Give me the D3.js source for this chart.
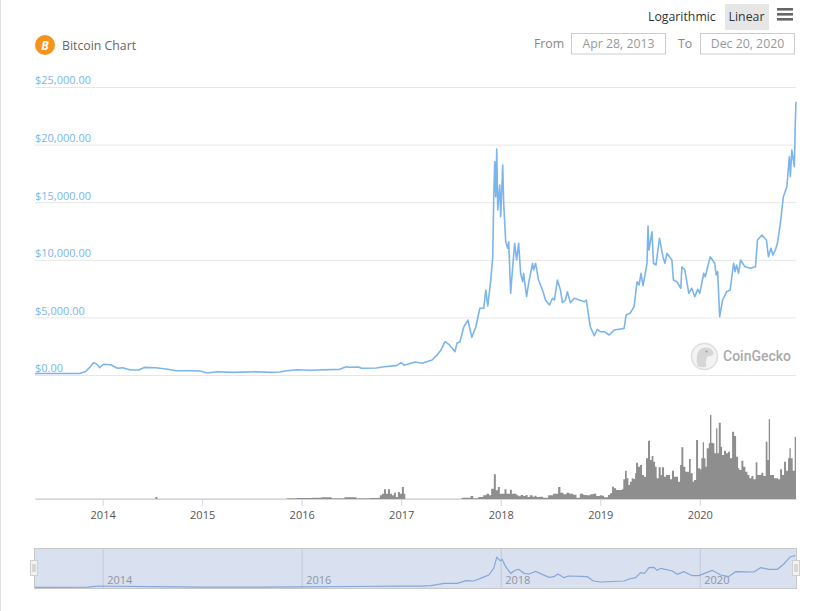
<!DOCTYPE html>
<html>
<head>
<meta charset="utf-8">
<script src="https://cdnjs.cloudflare.com/ajax/libs/d3/7.8.5/d3.min.js"></script>
<style>
    body { margin: 0; background: #fff; }
    svg { display: block; font-family: "Open Sans", sans-serif; }
    svg text { font-family: "Open Sans", sans-serif; }
    .grid line { stroke: #e6e6e6; }
    .grid text { fill: #7cb5ec; font-size: 11px; }
    .xaxis line { stroke: #ccd6eb; }
    .xaxis text { fill: #555; font-size: 11px; }
    .nav-tick line { stroke: #c2c8d6; }
    .nav-tick text { fill: #8e95a3; font-size: 11px; }
</style>
</head>
<body>
<svg id="chart" width="839" height="611"></svg>
<script>
// [year, price in USD]
const pricePoints = [
    [2013.32,135],[2013.77,130],[2013.83,300],[2013.87,660],[2013.91,1070],[2013.94,960],[2013.97,630],
    [2014.01,930],[2014.08,890],[2014.15,580],[2014.20,630],[2014.28,430],[2014.36,430],[2014.42,660],
    [2014.53,630],[2014.64,520],[2014.74,370],[2014.88,370],[2014.98,350],[2015.05,175],[2015.15,280],
    [2015.31,230],[2015.55,280],[2015.68,230],[2015.78,260],[2015.83,345],[2015.95,460],[2016.08,410],
    [2016.15,430],[2016.38,490],[2016.45,720],[2016.48,670],[2016.57,690],[2016.60,580],[2016.75,610],
    [2016.83,720],[2016.95,810],[2017.00,1070],[2017.03,840],[2017.14,1130],[2017.21,1020],[2017.31,1300],
    [2017.36,1730],[2017.40,2170],[2017.44,2890],[2017.48,2660],[2017.54,2020],[2017.56,2750],[2017.59,2890],
    [2017.63,4190],[2017.67,4770],[2017.71,3270],[2017.75,4190],[2017.79,5790],[2017.83,5790],[2017.85,7380],
    [2017.87,5990],[2017.90,8250],[2017.92,10270],[2017.93,15480],[2017.94,18510],[2017.95,15480],[2017.96,19620],
    [2017.97,14320],[2017.99,16490],[2018.00,13740],[2018.02,18230],[2018.03,14900],[2018.05,11570],[2018.07,11000],
    [2018.08,11570],[2018.10,7090],[2018.11,8250],[2018.14,11430],[2018.16,9980],[2018.18,11430],[2018.20,8830],
    [2018.22,8100],[2018.23,8830],[2018.26,6800],[2018.28,7960],[2018.32,9700],[2018.33,9110],[2018.35,9700],
    [2018.38,8250],[2018.42,7380],[2018.45,6510],[2018.49,6080],[2018.52,6660],[2018.54,6510],[2018.57,8250],
    [2018.60,7380],[2018.62,6280],[2018.65,6510],[2018.67,7230],[2018.70,6280],[2018.74,6660],[2018.79,6510],
    [2018.84,6360],[2018.86,6510],[2018.90,4190],[2018.94,3410],[2018.97,3970],[2019.00,3760],[2019.04,3760],
    [2019.09,3470],[2019.14,3900],[2019.20,3990],[2019.24,4050],[2019.26,5210],[2019.30,5360],[2019.34,5930],
    [2019.37,8100],[2019.39,7810],[2019.41,8830],[2019.43,7730],[2019.47,9700],[2019.48,12930],[2019.49,10850],
    [2019.52,12440],[2019.535,9700],[2019.56,9550],[2019.595,11870],[2019.63,10270],[2019.65,9700],[2019.67,10560],
    [2019.72,9980],[2019.735,8250],[2019.77,8100],[2019.81,7530],[2019.82,9400],[2019.85,9110],[2019.89,7090],
    [2019.92,7530],[2019.95,6800],[2019.98,7440],[2020.00,7090],[2020.04,8830],[2020.055,8530],[2020.105,10270],
    [2020.15,9700],[2020.165,8680],[2020.18,8970],[2020.20,5060],[2020.23,6510],[2020.27,7230],[2020.305,7380],
    [2020.34,9700],[2020.355,8970],[2020.37,9550],[2020.39,8830],[2020.41,9980],[2020.43,9700],[2020.455,9400],[2020.51,9260],[2020.56,9400],[2020.58,11720],
    [2020.625,12150],[2020.67,11720],[2020.69,10270],[2020.715,11000],[2020.735,10420],[2020.76,10850],[2020.78,11430],
    [2020.81,13170],[2020.84,15480],[2020.875,16340],[2020.90,18950],[2020.91,17210],[2020.925,19530],[2020.95,18080],
    [2020.96,21850],[2020.967,23720]
];

// [year, volume in billions USD]
const volumePoints = [
    [2013.32,0.5],[2014.52,0.5],[2014.53,3],[2014.55,0.5],[2015.80,0.5],[2015.85,1],[2015.95,1.5],[2016.10,2],
    [2016.20,2.5],[2016.30,1],[2016.43,2.5],[2016.55,1],
    [2016.686,1.5],[2016.726,1.5],[2016.766,2],[2016.786,5.5],[2016.806,8],[2016.827,14.5],[2016.847,8],[2016.867,14.5],
    [2016.887,8],[2016.907,5.5],[2016.927,9.5],[2016.947,3],[2016.967,10.5],[2016.987,8],[2017.007,18],[2017.027,8],
    [2017.041,0.5],[2017.59,0.5],[2017.607,2],[2017.673,2],[2017.697,4.5],[2017.724,1],[2017.774,3],[2017.824,5.5],
    [2017.857,8],[2017.884,5.5],[2017.904,15.5],[2017.931,37],[2017.951,13],[2017.971,18],[2017.991,8],[2018.011,8],
    [2018.038,14.5],[2018.058,8],[2018.092,14],[2018.112,8],[2018.159,5.5],[2018.18,4],[2018.20,6],[2018.226,4.5],[2018.25,6],[2018.27,3],[2018.293,5.5],[2018.32,3.5],[2018.34,5],[2018.36,3],
    [2018.39,3.5],[2018.426,2],[2018.477,5.5],[2018.527,8],[2018.56,8],[2018.577,18],[2018.60,9.5],[2018.63,7],[2018.661,9.5],[2018.69,8],[2018.728,6.5],
    [2018.761,2],[2018.795,8],[2018.83,6],[2018.862,5.5],[2018.90,7],[2018.929,8],[2018.96,4.5],[2018.996,5.5],
    [2019.018,5],[2019.038,2.5],[2019.058,2.5],[2019.078,6],[2019.098,8.5],[2019.119,18.5],[2019.139,16],[2019.159,13.5],
    [2019.179,13.5],[2019.199,13.5],[2019.219,14.5],[2019.232,29.5],[2019.249,42.5],[2019.266,31],[2019.283,21],[2019.299,26],
    [2019.316,31],[2019.333,30],[2019.35,38.5],[2019.36,54.5],[2019.38,48.5],[2019.40,51],[2019.42,36],[2019.44,33.5],
    [2019.46,61],[2019.48,87.5],[2019.50,58.5],[2019.517,64.5],[2019.534,56],[2019.551,48.5],[2019.567,31],[2019.587,47.5],
    [2019.608,36],[2019.621,47.5],[2019.641,33.5],[2019.661,36],[2019.681,36],[2019.701,29.5],[2019.721,42.5],[2019.741,33.5],
    [2019.762,33.5],[2019.782,26],[2019.802,51],[2019.815,77.5],[2019.835,48.5],[2019.855,41],[2019.875,41],[2019.892,60],
    [2019.909,38.5],[2019.929,26],[2019.942,28.5],[2019.963,88.5],[2019.983,46],[2020.003,44.5],
    [2020.016,61],[2020.03,85],[2020.043,61],[2020.057,48.5],[2020.07,76],[2020.09,83.5],[2020.103,126],[2020.117,84.5],
    [2020.13,83.5],[2020.147,68.5],[2020.164,106],[2020.177,68.5],[2020.191,114.5],[2020.211,78.5],[2020.224,66],[2020.244,72.5],
    [2020.264,68.5],[2020.284,71],[2020.304,61],[2020.325,101],[2020.345,94.5],[2020.365,63.5],[2020.385,46],[2020.398,43.5],
    [2020.418,57.5],[2020.438,48.5],[2020.458,41],[2020.479,36],[2020.499,31],[2020.519,34.5],[2020.539,29.5],[2020.562,55],
    [2020.579,36],[2020.599,36],[2020.619,39.5],[2020.639,34.5],[2020.663,86],[2020.68,58.5],[2020.693,119.5],[2020.706,36],
    [2020.726,36],[2020.746,31],[2020.767,31],[2020.787,29.5],[2020.807,44.5],[2020.827,36],[2020.847,56],[2020.867,42.5],
    [2020.887,61],[2020.901,76],[2020.914,61],[2020.934,42.5],[2020.954,93.5],[2020.967,93.5]
];

// [year, price] of the smoother line in the navigator
const navPoints = [
    [2013.32,130],[2013.85,200],[2013.95,900],[2014.10,800],[2014.50,600],[2015.00,300],[2015.60,260],[2016.00,430],
    [2016.50,650],[2017.00,900],[2017.20,900],[2017.30,1180],[2017.43,2680],[2017.565,2680],[2017.65,4390],[2017.73,4180],
    [2017.82,6530],[2017.88,8030],[2017.93,12320],[2017.96,19390],[2017.994,17250],[2018.014,18100],[2018.05,13390],[2018.10,9100],
    [2018.15,11250],[2018.18,11680],[2018.235,9100],[2018.285,8680],[2018.35,10390],[2018.485,6530],[2018.535,6960],[2018.575,8680],
    [2018.635,6320],[2018.685,7390],[2018.87,6960],[2018.93,4180],[2019.005,3530],[2019.24,4180],[2019.29,5460],[2019.355,6320],
    [2019.405,9530],[2019.445,9100],[2019.49,12750],[2019.54,12960],[2019.57,11030],[2019.61,12320],[2019.725,10600],[2019.775,8460],
    [2019.84,10170],[2019.925,7600],[2019.99,7600],[2020.125,11030],[2020.21,8030],[2020.29,6960],[2020.36,10170],[2020.545,9960],
    [2020.61,12750],[2020.695,11680],[2020.78,11680],[2020.845,15100],[2020.91,19810],[2020.96,20460]
];

const priceTicks = [0, 5000, 10000, 15000, 20000, 25000];
const yearTicks = [2014, 2015, 2016, 2017, 2018, 2019, 2020];
const navYearTicks = [2014, 2016, 2018, 2020];
const firstYear = 2013.3205, lastYear = 2020.967;

const title = "Bitcoin Chart";
const fromDate = "Apr 28, 2013", toDate = "Dec 20, 2020";

const svg = d3.select("#chart");
const left = 35, right = 796;

const x = d3.scaleLinear().domain([firstYear, lastYear]).range([left, right]);
const y = d3.scaleLinear().domain([0, 25000]).range([375, 87]);
const yVolume = d3.scaleLinear().domain([0, 150]).range([499, 399]);
const yNav = d3.scaleLinear().domain([0, 25000]).range([587.5, 548.6]);

// page border on the left
svg.append("rect").attr("x", 0).attr("y", 0).attr("width", 1).attr("height", 611).attr("fill", "#e3e3e3");

// price gridlines and labels
const grid = svg.append("g")
    .attr("class", "grid")
    .attr("transform", "translate(" + left + ",0)")
    .call(d3.axisLeft(y).tickValues(priceTicks).tickSize(left - right).tickFormat(d3.format("$,.2f")));
grid.select(".domain").remove();
grid.selectAll("text").attr("x", 0).attr("dy", "-0.28em").attr("text-anchor", "start");

// watermark
const mark = svg.append("g").attr("transform", "translate(704.5,356.5)");
mark.append("circle").attr("r", 13).attr("fill", "#f3f3f3").attr("stroke", "#dedede").attr("stroke-width", 1.5);
mark.append("path").attr("d", "M-7,9 C-9,0 -7,-9 1,-9 C6,-9 9,-6 9,-3 C9,-1 5,0 3,0 C1,3 1,7 2,10 C-1,11 -5,11 -7,9 Z").attr("fill", "#d6d6d6");
mark.append("circle").attr("cx", 2).attr("cy", -5).attr("r", 1).attr("fill", "#999");
svg.append("text").attr("x", 723).attr("y", 361).attr("fill", "#aaa")
    .style("font-size", "14px").style("font-weight", 500).style("font-family", "Roboto, sans-serif").text("CoinGecko");

// price line
const line = d3.line().x(d => x(d[0])).y(d => y(d[1]));
svg.append("path")
    .datum(pricePoints)
    .attr("d", line)
    .attr("fill", "none")
    .attr("stroke", "#7cb5ec")
    .attr("stroke-width", 1.6)
    .attr("stroke-linejoin", "round");

// volume
const area = d3.area().curve(d3.curveStepAfter).x(d => x(d[0])).y0(yVolume(0)).y1(d => yVolume(d[1]));
svg.append("path").datum(volumePoints).attr("d", area).attr("fill", "#8e8e8e");

// year axis
const xAxis = svg.append("g")
    .attr("class", "xaxis")
    .attr("transform", "translate(0,499)")
    .call(d3.axisBottom(x).tickValues(yearTicks).tickSize(7).tickSizeOuter(0).tickPadding(5).tickFormat(d3.format("d")));
xAxis.select(".domain").attr("stroke", "#ccd6eb");

// navigator
svg.append("rect")
    .attr("x", x(firstYear) - 0.5).attr("y", 548.5)
    .attr("width", x(lastYear) - x(firstYear) + 1).attr("height", 40)
    .attr("fill", "#d9e0f0").attr("stroke", "#c8c8c8");

const navAxis = svg.append("g")
    .attr("class", "nav-tick")
    .attr("transform", "translate(0,588)")
    .call(d3.axisTop(x).tickValues(navYearTicks).tickSize(40).tickFormat(d3.format("d")));
navAxis.select(".domain").remove();
navAxis.selectAll("text").attr("text-anchor", "start").attr("x", 4).attr("y", -4).attr("dy", 0);

const navLine = d3.line().x(d => x(d[0])).y(d => yNav(d[1]));
svg.append("path")
    .datum(navPoints)
    .attr("d", navLine)
    .attr("fill", "none")
    .attr("stroke", "#86a6d8")
    .attr("stroke-width", 1.2);

[left - 1, right].forEach(cx => {
    const h = svg.append("g").attr("transform", "translate(" + cx + ",560)");
    h.append("rect").attr("x", -3.5).attr("y", 0.5).attr("width", 7).attr("height", 15)
        .attr("fill", "#f2f2f2").attr("stroke", "#cfcfcf");
    h.append("path").attr("d", "M-1,4V12M1,4V12").attr("stroke", "#bdbdbd").attr("fill", "none");
});

// title with coin icon
svg.append("circle").attr("cx", 45).attr("cy", 45).attr("r", 10).attr("fill", "#f7931a");
svg.append("text").attr("x", 45).attr("y", 49.5).attr("text-anchor", "middle").attr("fill", "#fff")
    .style("font-size", "12px").style("font-weight", 700).style("font-style", "italic").text("B");
svg.append("text").attr("x", 62).attr("y", 49.5).attr("fill", "#666").style("font-size", "12.3px").text(title);

// scale buttons and menu
svg.append("text").attr("x", 648).attr("y", 20.5).attr("fill", "#333").style("font-size", "12.3px").text("Logarithmic");
svg.append("rect").attr("x", 725).attr("y", 4).attr("width", 44).attr("height", 26).attr("fill", "#e6e6e6");
svg.append("text").attr("x", 746.5).attr("y", 20.5).attr("text-anchor", "middle").attr("fill", "#333").style("font-size", "12.3px").text("Linear");
[8, 13, 18].forEach(by => {
    svg.append("rect").attr("x", 777).attr("y", by).attr("width", 16).attr("height", 2.6).attr("fill", "#666");
});

// date range inputs
svg.append("text").attr("x", 534).attr("y", 48).attr("fill", "#888").style("font-size", "12.3px").text("From");
svg.append("text").attr("x", 678).attr("y", 48).attr("fill", "#888").style("font-size", "12.3px").text("To");
[[571.5, fromDate], [700.5, toDate]].forEach(([bx, label]) => {
    svg.append("rect").attr("x", bx).attr("y", 33.5).attr("width", 94).attr("height", 20.5)
        .attr("fill", "#fff").attr("stroke", "#ccc");
    svg.append("text").attr("x", bx + 47).attr("y", 48).attr("text-anchor", "middle")
        .attr("fill", "#999").style("font-size", "12.3px").text(label);
});
</script>
</body>
</html>
